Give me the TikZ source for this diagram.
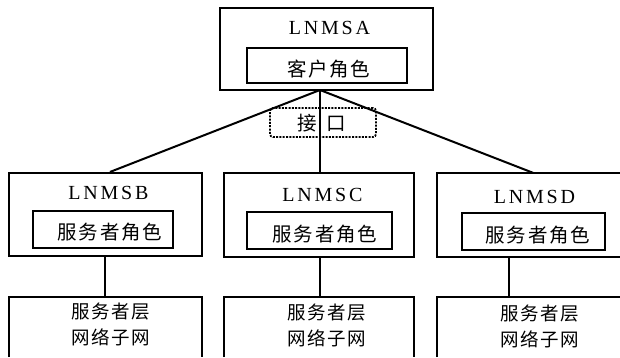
\documentclass[tikz,border=0pt]{standalone}
\usepackage{fontspec}
\setmainfont{Liberation Serif}
\newfontfamily\latsp[LetterSpace=14]{Liberation Serif}
\newfontfamily\cjkr[LetterSpace=9]{Noto Sans CJK SC}
\newfontfamily\cjkb[LetterSpace=8]{Noto Sans CJK SC}
\newfontfamily\cjk{Noto Sans CJK SC}
\begin{document}
\begin{tikzpicture}[x=1pt,y=-1pt,
  outerbox/.style={draw, line width=2.1pt, inner sep=0pt, rectangle},
  openbox/.style={inner sep=0pt, rectangle},
  innerbox/.style={draw, line width=2.8pt, inner sep=0pt, rectangle},
  ifbox/.style={draw, line width=1.8pt, dash pattern=on 2pt off 1.3pt, rounded corners=3pt, inner sep=0pt, rectangle},
  conn/.style={line width=2pt},
  lnms/.style={font=\latsp\fontsize{20}{22}\selectfont, inner sep=0pt},
  roletxt/.style={font=\cjkr\fontsize{19.5}{22}\selectfont, inner sep=0pt},
  subtxt/.style={font=\cjkb\fontsize{18.5}{26}\selectfont, inner sep=0pt, align=center},
]
\useasboundingbox (0,0) rectangle (620,357);
\fill[white] (0,0) rectangle (620,357);

% top node
\node[outerbox, minimum width=213pt, minimum height=82pt] (A) at (326.5,49) {};
\node[innerbox, minimum width=160pt, minimum height=35pt] (Ar) at (327,65.5) {};
\node[lnms] (At) at (328,28) {LNMSA\kern-2.8pt};
\node[roletxt] (Art) at (328,69) {客户角色\kern-1.75pt};

% interface
\node[ifbox, minimum width=106pt, minimum height=29pt] (I) at (323,122.5) {};
\node[inner sep=0pt, font=\cjk\fontsize{19.5}{22}\selectfont] (It) at (322,123.5) {接\hspace{10pt}口};

% second row
\node[outerbox, minimum width=193pt, minimum height=83pt] (B) at (105.5,214.5) {};
\node[innerbox, minimum width=140pt, minimum height=37pt] (Br) at (103,229.5) {};
\node[lnms] (Bt) at (107,193) {LNMSB\kern-2.8pt};
\node[roletxt] (Brt) at (109,232.5) {服务者角色\kern-1.75pt};

\node[outerbox, minimum width=190pt, minimum height=84pt] (C) at (319,215) {};
\node[innerbox, minimum width=145pt, minimum height=37pt] (Cr) at (319.5,230.5) {};
\node[lnms] (Ct) at (321,195) {LNMSC\kern-2.8pt};
\node[roletxt] (Crt) at (324,234) {服务者角色\kern-1.75pt};

\node[openbox, minimum width=183pt, minimum height=84pt] (D) at (528.5,215) {};
\draw[line width=2.1pt] (D.north east) -- (D.north west) -- (D.south west) -- (D.south east);
\node[innerbox, minimum width=143pt, minimum height=37pt] (Dr) at (533.5,231.5) {};
\node[lnms] (Dt) at (533,197) {LNMSD\kern-2.8pt};
\node[roletxt] (Drt) at (537,235) {服务者角色\kern-1.75pt};

% bottom row (open below)
\node[openbox, minimum width=193pt, minimum height=60pt] (Bb) at (105.5,327) {};
\node[openbox, minimum width=190pt, minimum height=60pt] (Cb) at (319,327) {};
\node[openbox, minimum width=183pt, minimum height=60pt] (Db) at (528.5,327) {};
\draw[line width=2.1pt] (Bb.south west) -- (Bb.north west) -- (Bb.north east) -- (Bb.south east);
\draw[line width=2.1pt] (Cb.south west) -- (Cb.north west) -- (Cb.north east) -- (Cb.south east);
\draw[line width=2.1pt] (Db.south west) -- (Db.north west) -- (Db.north east);
\node[subtxt] (Bbt) at (110,324.5) {服务者层\kern-1.5pt\\网络子网\kern-1.5pt};
\node[subtxt] (Cbt) at (326,325) {服务者层\kern-1.5pt\\网络子网\kern-1.5pt};
\node[subtxt] (Dbt) at (539,326) {服务者层\kern-1.5pt\\网络子网\kern-1.5pt};

% connectors
\coordinate (j) at (320,90);
\draw[conn] (j) -- ([xshift=4.5pt]B.north);
\draw[conn] (j) -- ([xshift=1pt]C.north);
\draw[conn] (j) -- ([xshift=4.5pt]D.north);
\draw[conn] ([xshift=-0.5pt]B.south) -- ([xshift=-0.5pt]Bb.north);
\draw[conn] ([xshift=1pt]C.south) -- ([xshift=1pt]Cb.north);
\draw[conn] ([xshift=-19.5pt]D.south) -- ([xshift=-19.5pt]Db.north);
\end{tikzpicture}
\end{document}
